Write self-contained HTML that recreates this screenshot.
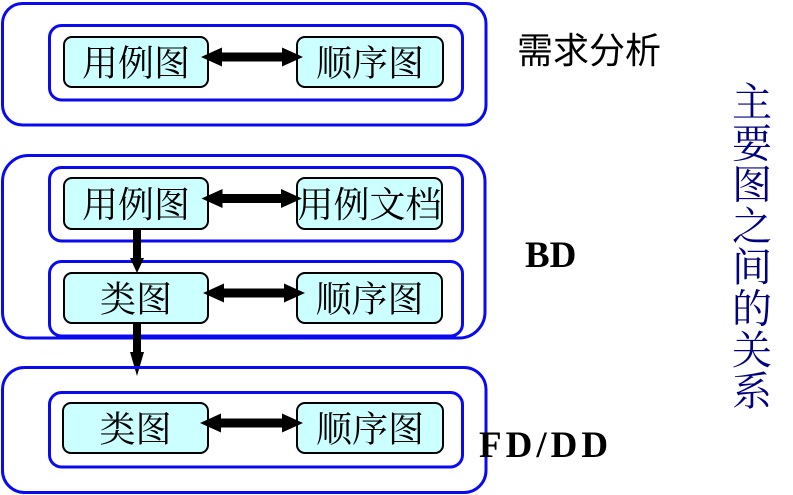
<!DOCTYPE html>
<html>
<head>
<meta charset="utf-8">
<style>
html,body{margin:0;padding:0;background:#fff;}
svg{display:block;}
.blue{fill:none;stroke:#0a0af0;stroke-width:3;}
.node{fill:#ccffff;stroke:#000;stroke-width:2;}
.nt{font-family:"Noto Serif CJK SC","Noto Serif CJK JP","Liberation Serif",serif;font-size:36px;fill:#000;text-anchor:middle;}
.lab{font-family:"Liberation Serif",serif;font-weight:bold;font-size:37px;fill:#000;}
.vt{font-family:"Noto Serif CJK SC","Noto Serif CJK JP","Liberation Serif",serif;font-size:40px;fill:#000080;text-anchor:middle;}
</style>
</head>
<body>
<svg width="793" height="495" viewBox="0 0 793 495" xmlns="http://www.w3.org/2000/svg">
  <!-- Section 1 -->
  <rect class="blue" x="2.5" y="3.5" width="483.5" height="121.5" rx="20"/>
  <rect class="blue" x="49.5" y="25.5" width="413" height="74.5" rx="12"/>
  <rect class="node" x="64" y="37" width="144" height="50" rx="8"/>
  <rect class="node" x="297" y="37" width="146" height="50" rx="8"/>
  <text class="nt" x="136" y="75.5">用例图</text>
  <text class="nt" x="370" y="75.5">顺序图</text>
  <polygon fill="#000" points="201,57 222,47.5 222,52.5 282,52.5 282,47.5 303,57 282,66.5 282,61.5 222,61.5 222,66.5"/>

  <!-- Section 2 -->
  <rect class="blue" x="2.5" y="155.5" width="482.5" height="182.5" rx="26"/>
  <rect class="blue" x="49.5" y="167.5" width="413" height="73.5" rx="12"/>
  <rect class="blue" x="49.5" y="261.5" width="413" height="74.5" rx="12"/>
  <rect class="node" x="64" y="178" width="144" height="51" rx="8"/>
  <rect class="node" x="297" y="178" width="145" height="51" rx="8"/>
  <text class="nt" x="136" y="217">用例图</text>
  <text class="nt" x="369.5" y="217">用例文档</text>
  <polygon fill="#000" points="201.5,198.5 222.5,189 222.5,194 281,194 281,189 302,198.5 281,208 281,203 222.5,203 222.5,208"/>

  <rect class="node" x="64" y="273" width="144" height="50" rx="8"/>
  <rect class="node" x="297" y="273" width="145" height="50" rx="8"/>
  <text class="nt" x="136" y="311.5">类图</text>
  <text class="nt" x="369.5" y="311.5">顺序图</text>
  <polygon fill="#000" points="203,293 224,283.5 224,288.5 284,288.5 284,283.5 305,293 284,302.5 284,297.5 224,297.5 224,302.5"/>

  <!-- vertical arrows -->
  <polygon fill="#000" points="133,229 141,229 141,258 144,258 137,273 130,258 133,258"/>
  <polygon fill="#000" points="133,323 141,323 141,352 144,352 137,376 130,352 133,352"/>

  <!-- Section 3 -->
  <rect class="blue" x="2.5" y="367.5" width="483.5" height="125" rx="22"/>
  <rect class="blue" x="49.5" y="392.5" width="413" height="74.5" rx="12"/>
  <rect class="node" x="63" y="403" width="145" height="50" rx="8"/>
  <rect class="node" x="297" y="403" width="146" height="50" rx="8"/>
  <text class="nt" x="135.5" y="441.5">类图</text>
  <text class="nt" x="370" y="441.5">顺序图</text>
  <polygon fill="#000" points="200,423 221,413.5 221,418.5 282,418.5 282,413.5 303,423 282,432.5 282,427.5 221,427.5 221,432.5"/>

  <!-- Labels -->
  <text x="517" y="63" style="font-family:'Noto Sans CJK SC','Liberation Sans',sans-serif;font-size:36px;font-weight:normal;fill:#000;">需求分析</text>
  <text class="lab" x="525" y="267">BD</text>
  <text class="lab" x="479" y="457" letter-spacing="4">FD/DD</text>

  <!-- Vertical text -->
  <text class="vt" x="752" y="116">主</text>
  <text class="vt" x="752" y="157.3">要</text>
  <text class="vt" x="752" y="198.6">图</text>
  <text class="vt" x="752" y="239.9">之</text>
  <text class="vt" x="752" y="281.2">间</text>
  <text class="vt" x="752" y="322.5">的</text>
  <text class="vt" x="752" y="363.8">关</text>
  <text class="vt" x="752" y="405">系</text>
</svg>
</body>
</html>
